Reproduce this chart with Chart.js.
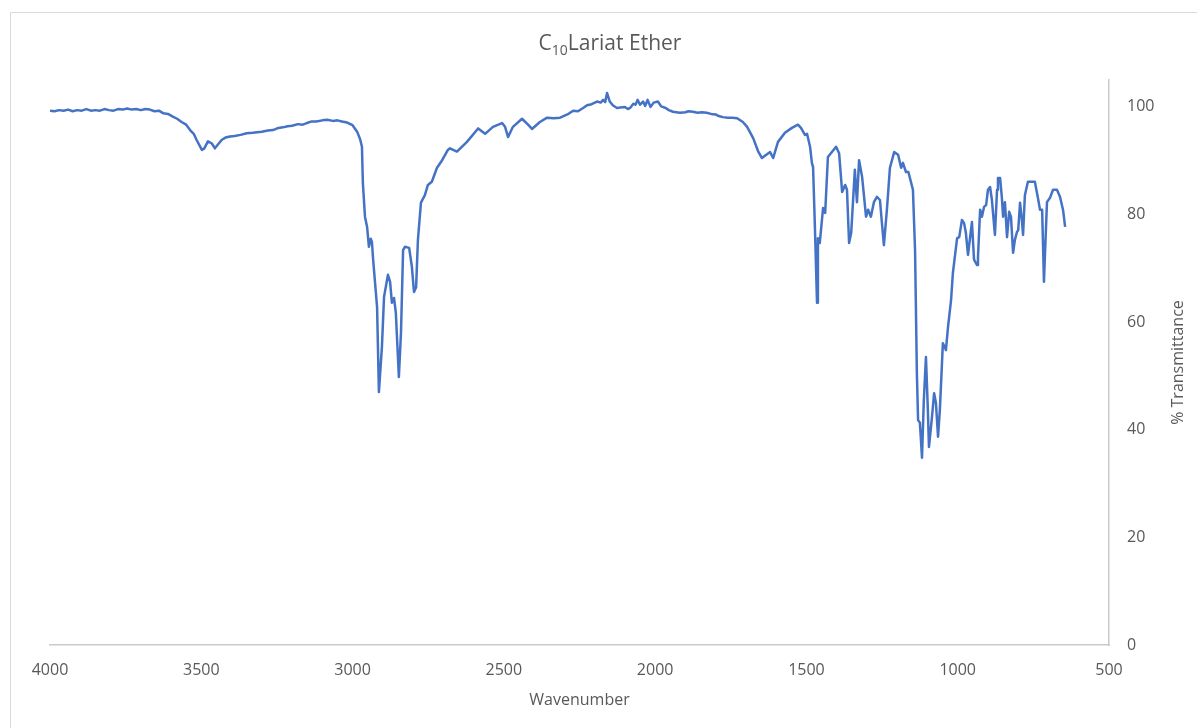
<!DOCTYPE html>
<html>
<head>
<meta charset="utf-8">
<title>C10 Lariat Ether IR spectrum</title>
<script src="https://cdn.jsdelivr.net/npm/chart.js@4/dist/chart.umd.min.js"></script>
<style>
  html, body { margin: 0; padding: 0; background: #ffffff; }
  #wrap { width: 1197px; height: 728px; position: relative; }
</style>
</head>
<body>
<div id="wrap"><canvas id="ir"></canvas></div>
<script>
// IR spectrum: wavenumber (cm-1) and % transmittance
const wavenumbers = [
  4000, 3985, 3970, 3955, 3940, 3925, 3910, 3895, 3880, 3865, 3850, 3835, 3820, 3805, 3790,
  3775, 3760, 3745, 3730, 3715, 3700, 3685, 3670, 3655, 3640, 3625, 3610, 3594,
  3580, 3565, 3550, 3537, 3525, 3515, 3498, 3490, 3478, 3465, 3455, 3445, 3432, 3420, 3405,
  3390, 3370, 3350, 3330, 3315, 3300, 3280, 3263, 3245, 3230, 3215, 3200, 3180, 3165, 3151,
  3135, 3120, 3100, 3084, 3065, 3050, 3035, 3018, 3000, 2985, 2975, 2969, 2966, 2959, 2952, 2946,
  2940, 2936, 2932, 2919, 2913, 2903, 2896, 2883, 2876, 2870, 2863, 2857, 2847, 2840, 2833,
  2827, 2813, 2804, 2797, 2790, 2784, 2774, 2761, 2751, 2738, 2721, 2704, 2685, 2678, 2655,
  2622, 2585, 2562, 2536, 2506, 2496, 2486, 2470, 2440, 2420, 2407, 2381, 2357, 2335, 2314, 2290,
  2271, 2255, 2238, 2225, 2210, 2192, 2180, 2172, 2165, 2159, 2150, 2140, 2126, 2115, 2100, 2090, 2083,
  2072, 2065, 2058, 2050, 2040, 2033, 2025, 2015, 2005, 1991, 1980, 1965, 1955, 1941, 1930, 1918,
  1900, 1890, 1875, 1860, 1845, 1830, 1815, 1800, 1790, 1776, 1760, 1745, 1729, 1710, 1696,
  1676, 1660, 1647, 1635, 1620, 1610,
  1594, 1571, 1548, 1528, 1518, 1505, 1498, 1488, 1482, 1478, 1472, 1465, 1462, 1456, 1445,
  1438, 1429, 1402, 1392, 1382, 1372, 1366, 1359, 1352, 1340, 1333, 1326, 1316, 1303, 1296,
  1287, 1277, 1267, 1257, 1250, 1244, 1234, 1224, 1210, 1197, 1187, 1181, 1171, 1163, 1148,
  1141, 1135, 1131, 1125, 1118, 1112, 1105, 1099, 1095, 1085, 1078, 1072, 1065, 1059, 1052,
  1049, 1039, 1032, 1022, 1016, 1002, 995, 986, 979, 973, 966, 959, 953, 946, 936,
  933, 926, 920, 913, 906, 900, 893, 887, 877, 870, 867, 860, 854, 850, 844,
  837, 830, 824, 817, 811, 804, 800, 794, 788, 784, 778, 768, 755, 745, 735,
  728, 721, 715, 705, 695, 685, 672, 662, 652, 645
];
const transmittance = [
  99.3, 99.2, 99.4, 99.3, 99.5, 99.2, 99.4, 99.3, 99.6, 99.3, 99.4, 99.3, 99.6, 99.4, 99.3,
  99.6, 99.5, 99.7, 99.5, 99.6, 99.4, 99.6, 99.5, 99.2, 99.3, 98.8, 98.7, 98.2,
  97.8, 97.2, 96.7, 95.7, 95.0, 93.8, 92.0, 92.3, 93.6, 93.2, 92.3, 93.0, 93.9, 94.3, 94.5,
  94.6, 94.8, 95.1, 95.2, 95.3, 95.4, 95.6, 95.7, 96.1, 96.2, 96.4, 96.5, 96.8, 96.7, 97.0,
  97.3, 97.3, 97.5, 97.6, 97.4, 97.5, 97.3, 97.1, 96.6, 95.4, 94.0, 92.6, 85.9, 79.6, 77.7, 74.0,
  75.5, 74.9, 71.6, 62.8, 47.0, 55.4, 64.7, 68.8, 67.5, 63.6, 64.5, 61.7, 49.8, 58.0, 73.4,
  74.0, 73.8, 70.3, 65.6, 66.5, 75.3, 82.2, 83.6, 85.5, 86.1, 88.7, 90.1, 92.0, 92.3, 91.7,
  93.5, 96.0, 95.0, 96.3, 97.0, 96.3, 94.4, 96.3, 97.8, 96.7, 95.9, 97.2, 98.0, 97.9, 98.0, 98.6,
  99.3, 99.2, 99.8, 100.3, 100.5, 101.0, 100.8, 101.3, 100.9, 102.6, 101.0, 100.3, 99.8, 99.9, 100.0, 99.6, 99.8,
  100.6, 100.4, 101.3, 100.4, 101.0, 100.2, 101.3, 100.0, 100.8, 101.0, 100.1, 99.8, 99.4, 99.1, 99.0, 98.9,
  99.0, 99.2, 99.1, 98.9, 99.0, 98.9, 98.7, 98.6, 98.3, 98.1, 98.0, 98.0, 97.9, 97.2, 96.3,
  94.2, 91.8, 90.5, 91.0, 91.6, 90.5,
  93.5, 95.2, 96.1, 96.7, 96.1, 94.8, 95.0, 92.6, 89.6, 88.8, 77.7, 63.6, 75.6, 74.7, 81.2,
  80.3, 90.7, 92.6, 91.4, 84.2, 85.5, 84.6, 74.7, 76.6, 88.3, 82.3, 90.1, 87.0, 79.6, 80.9,
  79.6, 82.3, 83.3, 82.7, 78.1, 74.3, 80.9, 88.7, 91.6, 91.1, 88.7, 89.6, 87.9, 87.9, 84.6,
  73.4, 50.6, 41.8, 41.3, 34.8, 45.5, 53.5, 44.2, 36.8, 42.4, 46.8, 45.0, 38.7, 43.7, 52.4,
  56.1, 54.8, 59.1, 64.1, 69.1, 75.6, 75.8, 79.0, 78.4, 76.6, 72.5, 75.8, 78.6, 71.6, 70.6,
  72.1, 80.9, 79.6, 81.4, 81.8, 84.6, 85.1, 82.7, 76.2, 84.6, 86.8, 86.8, 83.1, 79.6, 82.3,
  75.8, 80.5, 79.6, 72.9, 75.3, 76.8, 77.1, 82.2, 79.0, 76.2, 83.6, 86.1, 86.1, 86.1, 83.1,
  80.9, 80.9, 67.5, 82.3, 83.1, 84.6, 84.6, 83.3, 80.9, 77.7
];

// Axis ranges and labels
const xRange = [500, 4000];
const xStep = 500;
const yRange = [0, 105];
const yStep = 20;
const titleParts = ['C', '10', 'Lariat Ether'];
const xTitle = 'Wavenumber';
const yTitle = '% Transmittance';

const FONT = "'Open Sans', 'Noto Sans', sans-serif";
const TEXT = '#595959';
const AXIS = '#c9c9c9';

const points = wavenumbers.map((w, i) => ({ x: w, y: transmittance[i] }));

// Frame, chart title with subscript, and both axis titles
const decorations = {
  id: 'decorations',
  beforeDraw(chart) {
    const ctx = chart.ctx;
    ctx.save();
    ctx.fillStyle = '#ffffff';
    ctx.fillRect(0, 0, chart.width, chart.height);
    ctx.strokeStyle = '#d9d9d9';
    ctx.lineWidth = 1;
    ctx.beginPath();
    ctx.moveTo(10.5, chart.height);
    ctx.lineTo(10.5, 12.5);
    ctx.lineTo(chart.width, 12.5);
    ctx.stroke();
    ctx.restore();
  },
  afterDraw(chart) {
    const ctx = chart.ctx;
    const area = chart.chartArea;
    ctx.save();
    ctx.fillStyle = TEXT;
    ctx.textBaseline = 'alphabetic';

    // title: C with subscript 10, then the name
    const big = '21px ' + FONT;
    const small = '14px ' + FONT;
    ctx.font = big;
    const wC = ctx.measureText(titleParts[0]).width;
    const wName = ctx.measureText(titleParts[2]).width;
    ctx.font = small;
    const wSub = ctx.measureText(titleParts[1]).width;
    const total = wC + wSub + wName;
    let x = 610 - total / 2;
    const base = 50;
    ctx.textAlign = 'left';
    ctx.font = big;
    ctx.fillText(titleParts[0], x, base);
    x += wC;
    ctx.font = small;
    ctx.fillText(titleParts[1], x, base + 5);
    x += wSub;
    ctx.font = big;
    ctx.fillText(titleParts[2], x, base);

    // x axis title
    ctx.font = '16px ' + FONT;
    ctx.textAlign = 'center';
    ctx.textBaseline = 'middle';
    ctx.fillText(xTitle, (area.left + area.right) / 2, 700);

    // y axis title, reading bottom to top
    ctx.translate(1178, (area.top + area.bottom) / 2);
    ctx.rotate(-Math.PI / 2);
    ctx.fillText(yTitle, 0, 0);
    ctx.restore();
  }
};

new Chart(document.getElementById('ir'), {
  type: 'line',
  data: {
    datasets: [{
      data: points,
      borderColor: '#4472C4',
      borderWidth: 2.5,
      pointRadius: 0,
      tension: 0,
      borderJoinStyle: 'round',
      fill: false
    }]
  },
  options: {
    responsive: true,
    maintainAspectRatio: false,
    animation: false,
    layout: { padding: { left: 50, top: 80, right: 0, bottom: 0 } },
    plugins: {
      legend: { display: false },
      tooltip: { enabled: false },
      title: { display: false }
    },
    scales: {
      x: {
        type: 'linear',
        position: 'bottom',
        reverse: true,
        min: xRange[0],
        max: xRange[1],
        grid: { display: false, drawTicks: false },
        border: { display: true, color: AXIS, width: 1.5 },
        ticks: {
          stepSize: xStep,
          padding: 16,
          color: TEXT,
          font: { family: FONT, size: 16 },
          maxRotation: 0,
          callback: v => String(v)
        },
        afterFit(scale) { scale.height = 83; }
      },
      y: {
        type: 'linear',
        position: 'right',
        min: yRange[0],
        max: yRange[1],
        grid: { display: false, drawTicks: false },
        border: { display: true, color: AXIS, width: 1.5 },
        ticks: {
          stepSize: yStep,
          padding: 18,
          color: TEXT,
          font: { family: FONT, size: 16 },
          callback: v => String(v)
        },
        afterBuildTicks(scale) {
          scale.ticks = scale.ticks.filter(t => t.value % yStep === 0);
        },
        afterFit(scale) { scale.width = 88; }
      }
    }
  },
  plugins: [decorations]
});
</script>
</body>
</html>
